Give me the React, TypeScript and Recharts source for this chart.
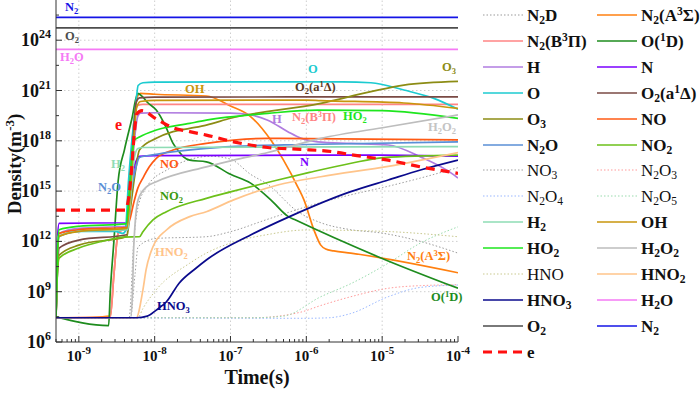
import React from 'react';
import { LineChart, Line, XAxis, YAxis, ReferenceLine } from 'recharts';

type Pt = [number, number];

// densities (m^-3) vs time (s)
const N2D: Pt[] = [[5e-10, 2.8e7], [4.6e-9, 2.8e7], [5.3e-9, 1e12], [6e-9, 1e14], [8e-9, 2e15], [1.5e-8, 2e16], [3e-8, 8e16], [5.5e-8, 1.2e17], [1e-7, 8e16], [1.84e-7, 1e16], [3.1e-7, 2.5e15], [7.7e-7, 6e13], [1.55e-6, 1.3e13], [3.85e-6, 5e12], [9.6e-6, 3.2e12], [3.2e-5, 1e12], [1e-4, 2e11]];
const N2A: Pt[] = [[5e-10, 2.8e7], [1.5e-9, 3e7], [2.6e-9, 3.5e7], [2.9e-9, 1e10], [3.3e-9, 3e12], [4.2e-9, 8e12], [4.6e-9, 1e15], [5.3e-9, 1e19], [6e-9, 5e20], [6.5e-9, 6.8e20], [1e-8, 6e20], [4.8e-8, 4.7e20], [1e-7, 1.2e20], [1.84e-7, 2.8e19], [3.4e-7, 1.1e18], [5e-7, 7e16], [7.7e-7, 1.8e15], [9.3e-7, 3e14], [1.26e-6, 4.8e12], [1.55e-6, 6e11], [1.8e-6, 3.5e11], [2.3e-6, 2.7e11], [3.85e-6, 2e11], [1e-4, 1.35e10]];
const N2B: Pt[] = [[5e-10, 2.8e7], [2.6e-9, 3e7], [2.9e-9, 1e10], [3.3e-9, 3e12], [4.2e-9, 7e12], [4.6e-9, 1e15], [5.3e-9, 1e19], [6e-9, 1.3e20], [7e-9, 1.5e20], [1e-4, 1.5e20]];
const O1D: Pt[] = [[5e-10, 3.2e7], [2.47e-9, 9.5e6], [2.6e-9, 1e9], [2.9e-9, 1e12], [3.3e-9, 4e15], [4e-9, 3e17], [5e-9, 2e19], [6e-9, 6.8e20], [7e-9, 4e20], [8e-9, 2e20], [1.05e-8, 6.8e19], [1.4e-8, 7e18], [1.75e-8, 7e17], [2.1e-8, 2.2e17], [2.4e-8, 1.1e17], [2.9e-8, 7e16], [4.8e-8, 5.6e16], [1e-7, 1e16], [1.84e-7, 3e15], [3.4e-7, 3e14], [5.8e-7, 3e13], [7e-7, 2e13], [9.8e-6, 1e11], [1e-4, 1.6e9]];
const H: Pt[] = [[5e-10, 2.8e7], [5.2e-10, 1e11], [5.5e-10, 3e12], [1e-9, 6e12], [4.3e-9, 8e12], [4.8e-9, 1e15], [5.4e-9, 1e18], [6e-9, 3e19], [6.5e-9, 4.5e19], [1e-8, 4.7e19], [1e-7, 4.5e19], [1.84e-7, 3.5e19], [3.1e-7, 1.7e19], [5.7e-7, 3.5e18], [8.4e-7, 1.45e18], [1.4e-6, 8.7e17], [3.9e-6, 7e17], [1.2e-5, 5.6e17], [3.2e-5, 1.1e17], [8.9e-5, 9e15], [1e-4, 6e15]];
const N: Pt[] = [[5e-10, 2.8e7], [5.2e-10, 1e12], [5.5e-10, 1.2e13], [4.4e-9, 1.3e13], [4.8e-9, 5e14], [5.4e-9, 3e16], [6.3e-9, 1.2e17], [1e-8, 1.3e17], [1e-6, 1.4e17], [1e-5, 1.4e17], [1e-4, 1.2e17]];
const O: Pt[] = [[5e-10, 2.8e7], [5.2e-10, 1e11], [5.5e-10, 2e12], [1e-9, 4e12], [3e-9, 4e12], [3.8e-9, 3e12], [4.1e-9, 4e12], [4.5e-9, 3e15], [5e-9, 1e18], [5.4e-9, 2.5e19], [5.7e-9, 2.5e20], [6.05e-9, 2e21], [7e-9, 2.9e21], [1e-8, 3.2e21], [3e-6, 3.3e21], [7.1e-6, 2.9e21], [1.93e-5, 1.07e21], [4.8e-5, 3.4e20], [1e-4, 7.6e19]];
const O2a: Pt[] = [[5e-10, 2.8e7], [5.2e-10, 1e10], [5.5e-10, 4e11], [1e-9, 1.2e12], [4.3e-9, 2.5e12], [4.7e-9, 1e15], [5.2e-9, 1e18], [5.7e-9, 2e20], [6.3e-9, 3.6e20], [1e-8, 4e20], [1e-4, 4.2e20]];
const O3: Pt[] = [[5e-10, 2.8e7], [5.2e-10, 1e10], [5.5e-10, 1.5e11], [1e-9, 6e11], [4.3e-9, 2e12], [4.8e-9, 1e14], [5.5e-9, 1e16], [6.3e-9, 2.8e17], [1.05e-8, 1.4e18], [1.75e-8, 3.5e18], [2.9e-8, 5.5e18], [4.8e-8, 8.7e18], [1e-7, 2.2e19], [1.55e-6, 1.7e20], [7.1e-6, 8.5e20], [1.93e-5, 2.1e21], [1e-4, 3.5e21]];
const NO: Pt[] = [[5e-10, 2.8e7], [5.2e-10, 1e11], [5.5e-10, 3e12], [1e-9, 5e12], [4.3e-9, 7e12], [4.7e-9, 2e13], [5.3e-9, 2e14], [6e-9, 1.5e15], [7e-9, 6e15], [8.5e-9, 2.8e16], [1.05e-8, 9e16], [1.75e-8, 2.8e17], [4.8e-8, 7e17], [1.1e-7, 1.1e18], [3.1e-7, 1.4e18], [1e-4, 1.15e18]];
const N2O: Pt[] = [[5e-10, 2.8e7], [5.2e-10, 1e11], [5.5e-10, 2e12], [1e-9, 4e12], [4.4e-9, 5e12], [4.9e-9, 1e15], [5.6e-9, 2e16], [6.3e-9, 1e17], [1e-8, 1.5e17], [4.8e-8, 3.5e17], [1e-7, 4.5e17], [1e-6, 6e17], [1e-4, 8.7e17]];
const NO2: Pt[] = [[5e-10, 2.8e7], [5.2e-10, 1e10], [5.5e-10, 1e11], [1e-9, 4e11], [2e-9, 1e12], [4e-9, 1.8e12], [6.3e-9, 1.9e12], [7e-9, 3.8e12], [9.5e-9, 1.9e13], [1.43e-8, 5.9e13], [4.8e-8, 3.7e14], [1e-7, 9e14], [4.2e-7, 4.6e15], [1.1e-6, 1.3e16], [3.9e-6, 4.6e16], [1.04e-5, 1e17], [1e-4, 1.4e17]];
const NO3: Pt[] = [[5e-10, 2.8e7], [4.8e-9, 2.8e7], [5.5e-9, 1e10], [6.05e-9, 4.8e11], [1.05e-8, 1.5e12], [4.8e-8, 1.9e12], [1e-7, 3.8e12], [3e-7, 2e13], [1.2e-6, 1.5e14], [3.85e-6, 6e14], [1e-5, 1.6e15], [3.2e-5, 6e15], [1e-4, 2.5e16]];
const N2O3: Pt[] = [[5e-10, 2.8e7], [2e-7, 2.8e7], [8.4e-7, 6e7], [1.55e-6, 1.5e8], [3.85e-6, 5e8], [1.2e-5, 1.6e9], [3.2e-5, 2.3e9], [1e-4, 2.6e9]];
const N2O4: Pt[] = [[5e-10, 2.8e7], [1e-6, 2.6e7], [2e-6, 2.8e7], [3.85e-6, 5e7], [1.2e-5, 5e8], [3.2e-5, 1.8e9], [1e-4, 2.5e9]];
const N2O5: Pt[] = [[5e-10, 2.8e7], [2e-7, 2.8e7], [5e-7, 3.5e7], [1.55e-6, 5e8], [3.85e-6, 3e9], [1.2e-5, 5e10], [3.2e-5, 8e11], [1e-4, 7.4e12]];
const H2: Pt[] = [[5e-10, 2.8e7], [5.1e-10, 1e10], [5.3e-10, 2e12], [1e-9, 4e12], [4.4e-9, 5e12], [4.9e-9, 1e15], [5.4e-9, 1e17], [6e-9, 3.5e17], [7e-9, 4e17], [1e-4, 4.5e17]];
const OH: Pt[] = [[5e-10, 2.8e7], [5.2e-10, 1e11], [5.5e-10, 2e12], [1e-9, 4e12], [4.3e-9, 6e12], [4.8e-9, 1e15], [5.3e-9, 1e18], [5.8e-9, 1e20], [6.5e-9, 2.2e20], [1e-8, 2.6e20], [1e-6, 2.7e20], [1.55e-6, 2.5e20], [1.93e-5, 1.8e20], [1e-4, 8.5e19]];
const HO2: Pt[] = [[5e-10, 2.8e7], [5.2e-10, 1e11], [5.5e-10, 5e12], [1e-9, 8e12], [4.2e-9, 1.1e13], [4.6e-9, 5e14], [5e-9, 1e17], [5.4e-9, 1.1e18], [6.3e-9, 1.7e18], [1.05e-8, 4.4e18], [2.9e-8, 1.1e19], [4.8e-8, 1.7e19], [3.1e-7, 4.3e19], [1.4e-6, 6.8e19], [1e-5, 6.3e19], [1e-4, 2.2e19]];
const H2O2: Pt[] = [[5e-10, 2.8e7], [4.8e-9, 2.8e7], [5.1e-9, 1e9], [5.3e-9, 4.8e11], [6.05e-9, 3e14], [7.8e-9, 1.8e15], [1.05e-8, 3.6e15], [4.8e-8, 2.8e16], [1.1e-7, 7e16], [3.1e-7, 2e17], [1.55e-6, 1.4e18], [1.2e-5, 6.9e18], [1e-4, 3.5e19]];
const HNO: Pt[] = [[5e-10, 2.8e7], [6e-9, 2.8e7], [7e-9, 1e8], [1.05e-8, 1.3e9], [2.9e-8, 5e10], [4.8e-8, 2e11], [1e-7, 8e11], [3e-7, 2.5e12], [1e-6, 4.8e12], [1e-5, 4e12], [1e-4, 1.9e12]];
const HNO2: Pt[] = [[5e-10, 2.8e7], [5.7e-9, 2.8e7], [7e-9, 1.3e9], [7.7e-9, 2e10], [9.5e-9, 4.8e11], [1.43e-8, 4.8e12], [2.9e-8, 3e13], [4.8e-8, 5.9e13], [1.1e-7, 3e14], [4.2e-7, 2.3e15], [1.55e-6, 7.2e15], [1.2e-5, 3e16], [1e-4, 2e17]];
const HNO3: Pt[] = [[5e-10, 2.8e7], [5.7e-9, 2.8e7], [8e-9, 3.5e7], [1.05e-8, 8e7], [1.43e-8, 2.5e8], [2.1e-8, 3.2e9], [3.5e-8, 2.5e10], [4.8e-8, 7.8e10], [1.84e-7, 2.4e12], [5.8e-7, 2.8e13], [3.85e-6, 9.3e14], [1.2e-5, 4.6e15], [3.2e-5, 1.8e16], [1e-4, 7e16]];
const H2O: Pt[] = [[5e-10, 2.8e23], [1e-4, 2.8e23]];
const O2: Pt[] = [[5e-10, 5.5e24], [1e-4, 5.5e24]];
const N2: Pt[] = [[5e-10, 2.3e25], [1e-4, 2.3e25]];
const E: Pt[] = [[5e-10, 7.4e13], [4.1e-9, 7.4e13], [4.5e-9, 3e14], [5e-9, 3e16], [5.4e-9, 3e18], [5.8e-9, 4e19], [6.8e-9, 6.3e19], [1.05e-8, 2e19], [1.75e-8, 6e18], [2.9e-8, 3.5e18], [4.8e-8, 2.2e18], [1.1e-7, 8.7e17], [3.1e-7, 4e17], [8.4e-7, 3.1e17], [2.3e-6, 2.2e17], [4.2e-6, 1.4e17], [1.2e-5, 7e16], [3.2e-5, 2.8e16], [1e-4, 1.15e16]];

const xMajor = [1e-9, 1e-8, 1e-7, 1e-6, 1e-5, 1e-4];
const yMajor = [1e6, 1e9, 1e12, 1e15, 1e18, 1e21, 1e24];
const yMinorExp = [7.5, 10.5, 13.5, 16.5, 19.5, 22.5, 25.5];

const xMinor: number[] = [];
for (let d = -10; d <= -5; d++) {
  for (let m = 2; m <= 9; m++) {
    const v = m * Math.pow(10, d);
    if (v >= 5e-10 && v < 1e-4) xMinor.push(v);
  }
}
const xTicks = [...xMajor, ...xMinor].sort((a, b) => a - b);
const yTicks = [...yMajor, ...yMinorExp.map((p) => Math.pow(10, p))].sort((a, b) => a - b);

const FONT = '"Liberation Serif", "Times New Roman", serif';

type S = { key: string; label: string; pts: Pt[]; color: string; style?: 'dot' | 'dash'; thin?: boolean };

// legend order (row by row, two columns)
const species: S[] = [
  { key: 'N2D', label: 'N_2D', pts: N2D, color: '#9a9a9a', style: 'dot' },
  { key: 'N2A', label: 'N_2(A^3Σ)', pts: N2A, color: '#ff8010' },
  { key: 'N2B', label: 'N_2(B^3Π)', pts: N2B, color: '#ff8585' },
  { key: 'O1D', label: 'O(^1D)', pts: O1D, color: '#1e8c1e' },
  { key: 'H', label: 'H', pts: H, color: '#b07ce0' },
  { key: 'N', label: 'N', pts: N, color: '#7a00ff' },
  { key: 'O', label: 'O', pts: O, color: '#1ccbd0' },
  { key: 'O2a', label: 'O_2(a^1Δ)', pts: O2a, color: '#7a4a44' },
  { key: 'O3', label: 'O_3', pts: O3, color: '#8c8c14' },
  { key: 'NO', label: 'NO', pts: NO, color: '#ff5a14' },
  { key: 'N2O', label: 'N_2O', pts: N2O, color: '#5a8fd6' },
  { key: 'NO2', label: 'NO_2', pts: NO2, color: '#6cc01a' },
  { key: 'NO3', label: 'NO_3', pts: NO3, color: '#a0a0a0', style: 'dot', thin: true },
  { key: 'N2O3', label: 'N_2O_3', pts: N2O3, color: '#ff9a9a', style: 'dot', thin: true },
  { key: 'N2O4', label: 'N_2O_4', pts: N2O4, color: '#9ab8ff', style: 'dot', thin: true },
  { key: 'N2O5', label: 'N_2O_5', pts: N2O5, color: '#9adcae', style: 'dot', thin: true },
  { key: 'H2', label: 'H_2', pts: H2, color: '#8edcb4' },
  { key: 'OH', label: 'OH', pts: OH, color: '#c8960c' },
  { key: 'HO2', label: 'HO_2', pts: HO2, color: '#1ee61e' },
  { key: 'H2O2', label: 'H_2O_2', pts: H2O2, color: '#bdbdbd' },
  { key: 'HNO', label: 'HNO', pts: HNO, color: '#c9c98f', style: 'dot', thin: true },
  { key: 'HNO2', label: 'HNO_2', pts: HNO2, color: '#ffc48a' },
  { key: 'HNO3', label: 'HNO_3', pts: HNO3, color: '#0a0a8c' },
  { key: 'H2O', label: 'H_2O', pts: H2O, color: '#f57af5' },
  { key: 'O2', label: 'O_2', pts: O2, color: '#4d4d4d' },
  { key: 'N2', label: 'N_2', pts: N2, color: '#1414e6' },
  { key: 'e', label: 'e', pts: E, color: '#ff1010', style: 'dash' },
];

// in-plot labels: [text, color, left, top, fontSize]
const notes: [string, string, number, number, number][] = [
  ['N_2', '#1414e6', 65, 1, 12.5],
  ['O_2', '#4d4d4d', 65, 30, 12.5],
  ['H_2O', '#f57af5', 60, 51, 12.5],
  ['OH', '#c8960c', 185, 83, 12.5],
  ['e', '#ff1010', 115, 117, 16],
  ['H_2', '#8edcb4', 111, 158, 12.5],
  ['NO', '#ff5a14', 160, 158, 12.5],
  ['N_2O', '#5a8fd6', 98, 181, 12.5],
  ['NO_2', '#3a9a10', 160, 190, 12.5],
  ['HNO_2', '#ffc48a', 155, 246, 12.5],
  ['HNO_3', '#0a0a8c', 157, 300, 12.5],
  ['O', '#1ccbd0', 308, 63, 12.5],
  ['O_3', '#8c8c14', 442, 61, 12.5],
  ['O_2(a^1Δ)', '#5c3a1e', 295, 81, 12.5],
  ['H', '#b07ce0', 272, 113, 12.5],
  ['N_2(B^3Π)', '#ff8585', 292, 111, 12.5],
  ['HO_2', '#1ee61e', 343, 110, 12.5],
  ['H_2O_2', '#c4c4c4', 428, 121, 12.5],
  ['N', '#7a00ff', 300, 156, 12.5],
  ['N_2(A^3Σ)', '#ff8010', 407, 250, 12.5],
  ['O(^1D)', '#1e8c1e', 431, 291, 12.5],
];

const subStyle: React.CSSProperties = { fontSize: '0.68em', verticalAlign: '-0.3em', lineHeight: 0 };
const supStyle: React.CSSProperties = { fontSize: '0.68em', verticalAlign: '0.5em', lineHeight: 0 };

function chem(s: string) {
  return s.split(/([_^](?:\{[^}]*\}|.))/).filter(Boolean).map((p, i) => {
    if (p[0] === '_' || p[0] === '^') {
      const t = p.slice(1).replace(/[{}]/g, '');
      return p[0] === '_' ? <sub key={i} style={subStyle}>{t}</sub> : <sup key={i} style={supStyle}>{t}</sup>;
    }
    return <span key={i}>{p}</span>;
  });
}

const rows = (p: Pt[]) => p.map(([t, n]) => ({ t, n }));

const near = (v: number, list: number[]) => list.some((m) => Math.abs(m - v) / m < 1e-6);

function AxisTick(props: any) {
  const { x, y, payload, side } = props;
  const v = payload.value as number;
  const horiz = side === 'bottom' || side === 'top';
  const major = near(v, horiz ? xMajor : yMajor);
  const len = major ? 6 : 3;
  const exp = Math.round(Math.log10(v));
  let ln: React.ReactNode = null;
  if (side === 'bottom') ln = <line x1={x} y1={y} x2={x} y2={y - len} />;
  if (side === 'top') ln = <line x1={x} y1={y} x2={x} y2={y + len} />;
  if (side === 'left') ln = <line x1={x} y1={y} x2={x + len} y2={y} />;
  if (side === 'right') ln = <line x1={x} y1={y} x2={x - len} y2={y} />;
  let txt: React.ReactNode = null;
  if (major && side === 'bottom') {
    txt = (
      <text x={x} y={y + 19} textAnchor="middle" fontFamily={FONT} fontWeight="bold" fontSize={15} fill="#111">
        10<tspan dy={-7} fontSize={11}>{String(exp)}</tspan>
      </text>
    );
  }
  if (major && side === 'left') {
    txt = (
      <text x={x - 5} y={y + 6} textAnchor="end" fontFamily={FONT} fontWeight="bold" fontSize={18} fill="#111">
        10<tspan dy={-8} fontSize={12}>{String(exp)}</tspan>
      </text>
    );
  }
  return (
    <g>
      <g stroke="#333" strokeWidth={1}>{ln}</g>
      {txt}
    </g>
  );
}

const lineProps = (s: S) => {
  if (s.style === 'dot') return { strokeWidth: 1, strokeDasharray: '1.5 2' };
  if (s.style === 'dash') return { strokeWidth: 3.2, strokeDasharray: '9 6' };
  return { strokeWidth: 1.7 };
};

const drawOrder = [...species.filter((s) => s.style === 'dot'), ...species.filter((s) => !s.style), ...species.filter((s) => s.style === 'dash')];

export default function App() {
  return (
    <div style={{ position: 'absolute', left: 0, top: 0, width: 700, height: 393, background: '#fff', fontFamily: FONT, overflow: 'hidden' }}>
      <LineChart width={700} height={393} margin={{ top: 0, right: 242, bottom: 0, left: 0 }}>
        <XAxis xAxisId="b" dataKey="t" type="number" scale="log" domain={[5e-10, 1e-4]} allowDataOverflow ticks={xTicks} interval={0} height={51} tickSize={0} tickMargin={0} tickLine={false} axisLine={{ stroke: '#333' }} tick={(p: any) => <AxisTick {...p} side="bottom" />} />
        <XAxis xAxisId="t" orientation="top" dataKey="t" type="number" scale="log" domain={[5e-10, 1e-4]} allowDataOverflow ticks={xTicks} interval={0} height={0} tickSize={0} tickMargin={0} tickLine={false} axisLine={false} tick={(p: any) => <AxisTick {...p} side="top" />} />
        <YAxis yAxisId="l" type="number" scale="log" domain={[1e6, 2.5e26]} allowDataOverflow ticks={yTicks} interval={0} width={56} tickSize={0} tickMargin={0} tickLine={false} axisLine={{ stroke: '#333' }} tick={(p: any) => <AxisTick {...p} side="left" />} />
        <YAxis yAxisId="r" orientation="right" type="number" scale="log" domain={[1e6, 2.5e26]} allowDataOverflow ticks={yTicks} interval={0} width={0} tickSize={0} tickMargin={0} tickLine={false} axisLine={{ stroke: '#333' }} tick={(p: any) => <AxisTick {...p} side="right" />} />
        {xMajor.slice(0, -1).map((v) => (
          <ReferenceLine key={'gx' + v} xAxisId="b" yAxisId="l" x={v} stroke="#cfcfcf" strokeDasharray="1.5 2.5" />
        ))}
        {yMajor.slice(1).map((v) => (
          <ReferenceLine key={'gy' + v} xAxisId="b" yAxisId="l" y={v} stroke="#cfcfcf" strokeDasharray="1.5 2.5" />
        ))}
        <Line xAxisId="t" yAxisId="r" data={rows(N2)} dataKey="n" stroke="none" dot={false} activeDot={false} isAnimationActive={false} />
        {drawOrder.map((s) => (
          <Line key={s.key} xAxisId="b" yAxisId="l" data={rows(s.pts)} dataKey="n" type="monotone" stroke={s.color} dot={false} activeDot={false} isAnimationActive={false} {...lineProps(s)} />
        ))}
      </LineChart>

      {notes.map(([t, c, l, tp, fs]) => (
        <div key={t} style={{ position: 'absolute', left: l, top: tp, color: c, fontSize: fs, fontWeight: 'bold', lineHeight: 1, whiteSpace: 'nowrap' }}>
          {chem(t)}
        </div>
      ))}

      {species.map((s, i) => {
        const col = i % 2;
        const row = Math.floor(i / 2);
        const cy = 15 + row * 25.9;
        const lx = col ? 597 : 483;
        const lp = lineProps(s);
        return (
          <React.Fragment key={'lg' + s.key}>
            <svg style={{ position: 'absolute', left: lx, top: cy - 3 }} width={40} height={6}>
              <line x1={0} y1={3} x2={40} y2={3} stroke={s.color} strokeWidth={s.style === 'dot' ? 1.2 : lp.strokeWidth} strokeDasharray={(lp as any).strokeDasharray} />
            </svg>
            <div style={{ position: 'absolute', left: lx + 44, top: cy - 9, fontSize: 17, lineHeight: '20px', fontWeight: s.thin ? 'normal' : 'bold', color: '#111', whiteSpace: 'nowrap' }}>
              {chem(s.label)}
            </div>
          </React.Fragment>
        );
      })}

      <div style={{ position: 'absolute', left: 257, top: 367, transform: 'translateX(-50%)', fontSize: 20, fontWeight: 'bold', lineHeight: 1, color: '#111', whiteSpace: 'nowrap' }}>
        Time(s)
      </div>
      <div style={{ position: 'absolute', left: 14, top: 164, transform: 'translate(-50%, -50%) rotate(-90deg)', fontSize: 19, fontWeight: 'bold', lineHeight: 1, color: '#111', whiteSpace: 'nowrap' }}>
        {chem('Density(m^{-3})')}
      </div>
    </div>
  );
}
